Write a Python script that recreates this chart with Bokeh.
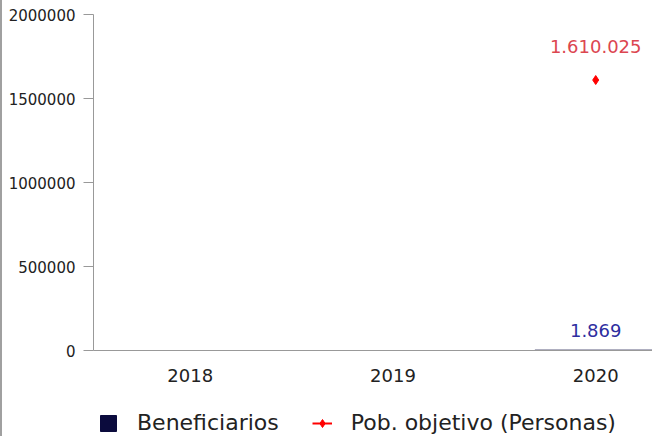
from bokeh.plotting import figure
from bokeh.layouts import column
from bokeh.models import Range1d, NumeralTickFormatter, Legend, LegendItem, ColumnDataSource
from bokeh.core.properties import value
from bokeh.embed import file_html
from bokeh.resources import INLINE

years = ["2018", "2019", "2020"]
beneficiarios = [None, None, 1869]
pob_objetivo = [None, None, 1610025]
y_ticks = [0, 500000, 1000000, 1500000, 2000000]

FONT = "DejaVu Sans"
BORDER = {"border-left": "2px solid #a0a0a0"}

def fmt(v):
    return f"{v:,}".replace(",", ".")

xpos = [i + 0.5 for i in range(len(years))]

bx = [x for x, v in zip(xpos, beneficiarios) if v is not None]
bv = [v for v in beneficiarios if v is not None]
bsrc = ColumnDataSource(dict(x=bx, top=bv, label=[fmt(v) for v in bv]))
lx = [x for x, v in zip(xpos, pob_objetivo) if v is not None]
lv = [v for v in pob_objetivo if v is not None]
lsrc = ColumnDataSource(dict(x=lx, y=lv, label=[fmt(v) for v in lv]))

p = figure(frame_width=559, frame_height=336, output_backend="svg", toolbar_location=None,
           x_range=Range1d(0.023, 2.79), y_range=Range1d(0, 2000000),
           min_border_left=91, min_border_right=0, min_border_top=14, min_border_bottom=38)
p.outline_line_color = None
p.grid.visible = False
p.background_fill_color = "white"
p.border_fill_color = "white"

# bars
p.vbar(x="x", top="top", width=0.6, source=bsrc, fill_color="#0b0b3d", line_color="#0b0b3d")
p.text(x="x", y="top", text="label", source=bsrc, text_align="center", text_baseline="bottom",
       y_offset=-13, text_color="#2e2ea0", text_font=value(FONT), text_font_size="18px")

# line + markers
p.line(x="x", y="y", source=lsrc, line_color="red", line_width=2)
p.scatter(x="x", y="y", source=lsrc, marker="diamond", size=9, fill_color="red", line_color="red")
p.text(x="x", y="y", text="label", source=lsrc, text_align="center", text_baseline="bottom",
       y_offset=-27, text_color="#dc4650", text_font=value(FONT), text_font_size="18px")

# axes
p.yaxis.ticker = y_ticks
p.yaxis.ticker.num_minor_ticks = 5
p.yaxis.formatter = NumeralTickFormatter(format="0")
p.yaxis.major_label_text_font = FONT
p.yaxis.major_label_text_font_size = "15px"
p.yaxis.major_label_text_color = "#222222"
p.yaxis.axis_line_color = "#999999"
p.yaxis.major_tick_line_color = "#999999"
p.yaxis.minor_tick_line_color = "#999999"
p.yaxis.major_tick_out = 10
p.yaxis.major_tick_in = 0
p.yaxis.minor_tick_out = 6
p.yaxis.minor_tick_in = 0
p.yaxis.major_label_standoff = 8

p.xaxis.ticker = xpos
p.xaxis.major_label_overrides = {x: y for x, y in zip(xpos, years)}
p.xaxis.major_label_text_font = FONT
p.xaxis.major_label_text_font_size = "18px"
p.xaxis.major_label_text_color = "#222222"
p.xaxis.axis_line_color = "#999999"
p.xaxis.major_tick_line_color = None
p.xaxis.minor_tick_line_color = None
p.xaxis.major_tick_out = 0
p.xaxis.major_tick_in = 0
p.xaxis.major_label_standoff = 18
p.styles = BORDER

# legend strip (same data, drawn outside its view; only the legend shows)
lg = figure(width=650, height=48, output_backend="svg", toolbar_location=None,
            x_range=Range1d(-10, -9), y_range=Range1d(-10, -9),
            x_axis_location=None, y_axis_location=None,
            min_border_left=0, min_border_right=0, min_border_top=0, min_border_bottom=0)
lg.outline_line_color = None
lg.grid.visible = False
lbars = lg.vbar(x="x", top="top", width=0.6, source=bsrc, fill_color="#0b0b3d", line_color="#0b0b3d")
lline = lg.line(x="x", y="y", source=lsrc, line_color="red", line_width=2)
lmark = lg.scatter(x="x", y="y", source=lsrc, marker="diamond", size=9, fill_color="red", line_color="red")

legend = Legend(items=[LegendItem(label="Beneficiarios", renderers=[lbars]),
                       LegendItem(label="Pob. objetivo (Personas)", renderers=[lline, lmark])],
                location=(5, 1), orientation="horizontal", border_line_color=None,
                background_fill_alpha=0, padding=0, margin=0, spacing=33,
                glyph_width=20, glyph_height=20, label_standoff=19,
                label_text_font=FONT, label_text_font_size="22px", label_text_color="#222222")
lg.add_layout(legend, "center")
lg.styles = BORDER

layout = column(p, lg, spacing=0)
open("out.html", "w").write(file_html(layout, INLINE))
